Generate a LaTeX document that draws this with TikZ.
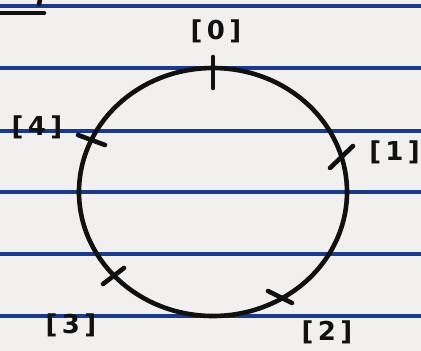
\documentclass[tikz,border=0pt]{standalone}
\usepackage{fontspec}
\setmainfont{DejaVu Sans}
\definecolor{paper}{HTML}{F1F0EE}
\definecolor{rule}{HTML}{1C3A8C}
\definecolor{ink}{HTML}{111111}
\begin{document}
\begin{tikzpicture}[x=1pt,y=-1pt,
  ruleline/.style={rule,line width=3.2pt},
  inkline/.style={ink,line width=4.6pt,line cap=round,line join=round},
  lbl/.style={ink,inner sep=0pt,font=\fontsize{26}{30}\selectfont\bfseries}]
\fill[paper] (0,0) rectangle (421,351);
\useasboundingbox (0,0) rectangle (421,351);
\foreach \y in {6,68,131,192,254,316}
  \draw[ruleline] (0,\y) -- (421,\y);
% fragment at top-left
\draw[inkline] (0,13) -- (44,13);
\draw[inkline] (40,0) -- (39,4);
% circle
\draw[inkline] (213,192) ellipse [x radius=134, y radius=124];
% ticks
\draw[inkline] (213,57) -- (213,88);
\draw[inkline] (330,168) -- (353,146);
\draw[inkline] (78,135) -- (105,145);
\draw[inkline] (103,284) -- (124,268);
\draw[inkline] (268,291) -- (292,303);
% labels
\node[lbl] (l0) at (216,31) {[\,0\,]};
\node[lbl,anchor=east] (l1) at (420,152) {[\,1\,]};
\node[lbl] (l2) at (327,332) {[\,2\,]};
\node[lbl] (l3) at (71,325) {[\,3\,]};
\node[lbl] (l4) at (37,127) {[\,4\,]};
\end{tikzpicture}
\end{document}
